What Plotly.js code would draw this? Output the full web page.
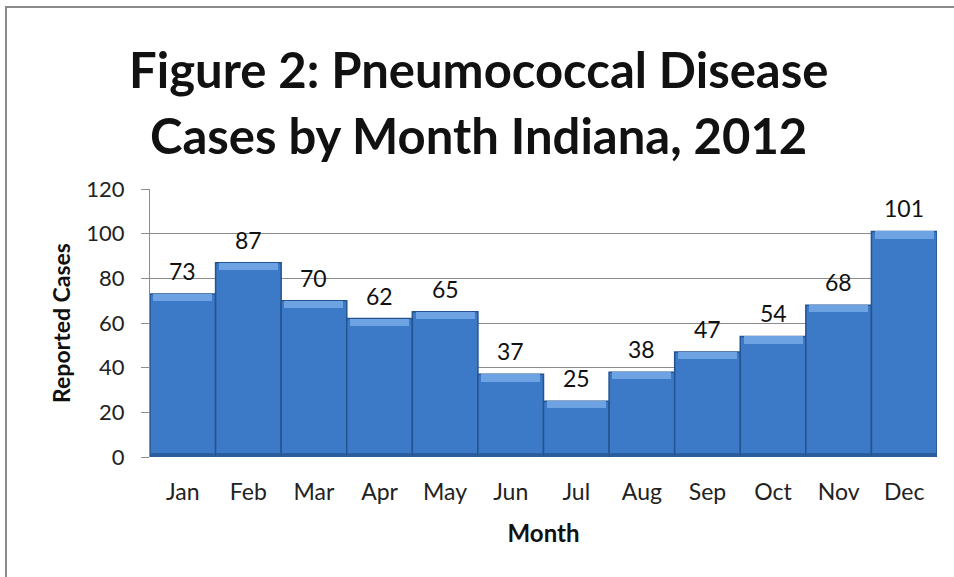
<!DOCTYPE html>
<html>
<head>
<meta charset="utf-8">
<script src="https://cdn.plot.ly/plotly-3.0.1.min.js"></script>
<style>
html,body{margin:0;padding:0;background:#fff;}
#wrap{position:relative;width:954px;height:577px;overflow:hidden;}
#frame{position:absolute;left:5px;top:6px;width:1000px;height:700px;border-left:2px solid #8a8a8a;border-top:2px solid #8a8a8a;pointer-events:none;}
#chart{position:absolute;left:0;top:0;width:954px;height:577px;}
</style>
</head>
<body>
<div id="wrap">
<div id="chart"></div>
<div id="frame"></div>
</div>
<script>
const months = ["Jan","Feb","Mar","Apr","May","Jun","Jul","Aug","Sep","Oct","Nov","Dec"];
const cases = [73,87,70,62,65,37,25,38,47,54,68,101];
const yTicks = [0,20,40,60,80,100,120];
const titleLines = ["Figure 2: Pneumococcal Disease", "Cases by Month Indiana, 2012"];

const capH = 3.2;
const font = "Lato, 'Open Sans', sans-serif";

const mainBars = {
  type: "bar", x: months, y: cases,
  marker: {color: "#3C79C6", line: {color: "#24548F", width: 1.5}},
  width: 1, hoverinfo: "x+y"
};
const capBars = {
  type: "bar", x: months, y: cases.map(() => capH), base: cases.map(v => v - capH),
  marker: {color: "#6EA3E3", line: {width: 0}},
  width: 0.9, hoverinfo: "skip"
};
const shadeBars = {
  type: "bar", x: months, y: cases.map(() => 2), base: cases.map(() => 0),
  marker: {color: "#2A5E9E", line: {width: 0}},
  width: 0.98, hoverinfo: "skip"
};

const labels = months.map((m, i) => ({
  x: m, y: cases[i], xref: "x", yref: "y", text: String(cases[i]),
  showarrow: false, yanchor: "bottom", yshift: 7,
  font: {family: font, size: 23, color: "#111"}
}));
const titleAnns = [
  {text: titleLines[0], xref: "paper", yref: "paper", x: 0.418, y: 1.449, xanchor: "center", yanchor: "middle",
   showarrow: false, font: {family: font, size: 49, color: "#111", weight: "bold"}},
  {text: titleLines[1], xref: "paper", yref: "paper", x: 0.418, y: 1.2, xanchor: "center", yanchor: "middle",
   showarrow: false, font: {family: font, size: 49, color: "#111", weight: "bold"}}
];

const layout = {
  width: 954, height: 577,
  margin: {l: 150, r: 17, t: 189, b: 120},
  paper_bgcolor: "#fff", plot_bgcolor: "#fff",
  showlegend: false, barmode: "overlay", bargap: 0,
  xaxis: {
    type: "category", tickfont: {family: font, size: 23, color: "#222"},
    ticks: "outside", ticklen: 14, tickcolor: "rgba(0,0,0,0)",
    showgrid: false, zeroline: false, showline: false,
    title: {text: "Month", standoff: 21, font: {family: font, size: 24, color: "#111", weight: "bold"}}
  },
  yaxis: {
    range: [0, 120], tickvals: yTicks,
    tickfont: {family: font, size: 22, color: "#222"},
    ticks: "outside", ticklen: 8, tickcolor: "#8c8c8c", ticklabelstandoff: 12,
    showgrid: true, gridcolor: "#8c8c8c", gridwidth: 1,
    zeroline: false, showline: true, linecolor: "#8c8c8c",
    title: {text: "Reported Cases", standoff: 9, font: {family: font, size: 23, color: "#111", weight: "bold"}}
  },
  annotations: titleAnns.concat(labels)
};

Plotly.newPlot("chart", [mainBars, shadeBars, capBars], layout, {displayModeBar: false, staticPlot: true});
</script>
</body>
</html>
